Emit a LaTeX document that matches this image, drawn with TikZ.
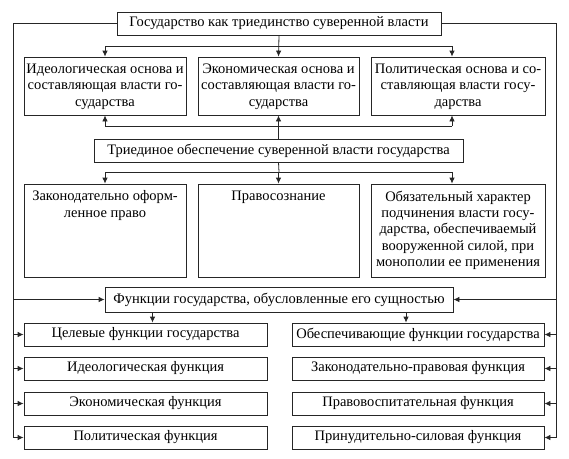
\documentclass[tikz,border=0pt]{standalone}
\usepackage{fontspec}
\setmainfont{Liberation Serif}
\usetikzlibrary{arrows.meta,positioning}

\tikzset{
  box/.style={draw=black!85, line width=0.8pt, inner sep=0pt, font=\rmfamily\fontsize{14.5}{16.4}\selectfont},
  txt/.style={align=center, inner sep=0pt, anchor=north, font=\rmfamily\fontsize{14.5}{16.4}\selectfont},
  ln/.style={draw=black!85, line width=0.8pt},
  arr/.style={draw=black!85, line width=0.8pt, -{Latex[length=6pt,width=5.5pt]}},
}

\begin{document}
\begin{tikzpicture}[x=1pt,y=-1pt]
\useasboundingbox (0,0) rectangle (569,458);

% top
\node[box, minimum width=324, minimum height=23] (gos) at (279,23.5) {Государство как триединство суверенной власти};

% three bases
\node[box, minimum width=162, minimum height=58] (ideo) at (105,86) {};
\node[box, minimum width=161, minimum height=58] (econ) at (278.5,86) {};
\node[box, minimum width=174, minimum height=58] (polit) at (458,86) {};
\node[txt] (ideot) at ([yshift=-7pt]ideo.north) {Идеологическая основа и\\составляющая власти го-\\сударства};
\node[txt] (econt) at ([yshift=-7pt]econ.north) {Экономическая основа и\\составляющая власти го-\\сударства};
\node[txt] (politt) at ([yshift=-7pt]polit.north) {Политическая основа и со-\\ставляющая власти госу-\\дарства};

\node[box, minimum width=369, minimum height=23] (triad) at (278.5,150.5) {Триединое обеспечение суверенной власти государства};

% three supports
\node[box, minimum width=162, minimum height=93] (zakon) at (105,230.5) {};
\node[box, minimum width=161, minimum height=93] (soznan) at (278.5,230.5) {};
\node[box, minimum width=174, minimum height=93] (sila) at (458,230.5) {};
\node[txt] (zakont) at ([yshift=-7pt]zakon.north) {Законодательно оформ-\\ленное право};
\node[txt] (soznant) at ([yshift=-7pt]soznan.north) {Правосознание};
\node[txt] (silat) at ([yshift=-7pt]sila.north) {Обязательный характер\\подчинения власти госу-\\дарства, обеспечиваемый\\вооруженной силой, при\\монополии ее применения};

% functions
\node[box, minimum width=348, minimum height=25] (funk) at (279,299.5) {Функции государства, обусловленные его сущностью};

\node[box, minimum width=243, minimum height=23] (cel1) at (145.5,334.5) {Целевые функции государства};
\node[box, minimum width=243, minimum height=23] (cel2) at (145.5,368.5) {Идеологическая функция};
\node[box, minimum width=243, minimum height=23] (cel3) at (145.5,403.5) {Экономическая функция};
\node[box, minimum width=243, minimum height=23] (cel4) at (145.5,437.5) {Политическая функция};

\node[box, minimum width=252, minimum height=23] (obs1) at (418,334.5) {Обеспечивающие функции государства};
\node[box, minimum width=252, minimum height=23] (obs2) at (418,368.5) {Законодательно-правовая функция};
\node[box, minimum width=252, minimum height=23] (obs3) at (418,403.5) {Правовоспитательная функция};
\node[box, minimum width=252, minimum height=23] (obs4) at (418,437.5) {Принудительно-силовая функция};

% connectors
\coordinate (j1) at (279,46);
\coordinate (j2) at (279,126);
\coordinate (j3) at (279,172);
\coordinate (L) at (13,0);
\coordinate (R) at (556,0);
\coordinate (p3) at (452,0);

\draw[arr] (gos.south) -- (econ.north);
\draw[ln] (ideo.north |- j1) -- (p3 |- j1);
\draw[arr] (ideo.north |- j1) -- (ideo.north);
\draw[arr] (p3 |- j1) -- (p3 |- polit.north);

\draw[arr] (triad.north) -- (econ.south);
\draw[ln] (ideo.south |- j2) -- (p3 |- j2);
\draw[arr] (ideo.south |- j2) -- (ideo.south);
\draw[arr] (p3 |- j2) -- (p3 |- polit.south);

\draw[ln] (triad.south) -- (j3);
\draw[ln] (zakon.north |- j3) -- (p3 |- j3);
\foreach \n in {zakon,soznan}
  \draw[arr] (\n.north |- j3) -- (\n.north);
\draw[arr] (p3 |- j3) -- (p3 |- sila.north);

\draw[ln] (gos.west) -- (gos.west -| L) -- (cel4.west -| L);
\draw[ln] (gos.east) -- (gos.east -| R) -- (obs4.east -| R);
\foreach \n in {funk,cel1,cel2,cel3,cel4}
  \draw[arr] (\n.west -| L) -- (\n.west);
\foreach \n in {funk,obs1,obs2,obs3,obs4}
  \draw[arr] (\n.east -| R) -- (\n.east);

\draw[arr] ([xshift=7pt]funk.south -| cel1.north) -- ([xshift=7pt]cel1.north);
\draw[arr] ([xshift=-12pt]funk.south -| obs1.north) -- ([xshift=-12pt]obs1.north);

\end{tikzpicture}
\end{document}
